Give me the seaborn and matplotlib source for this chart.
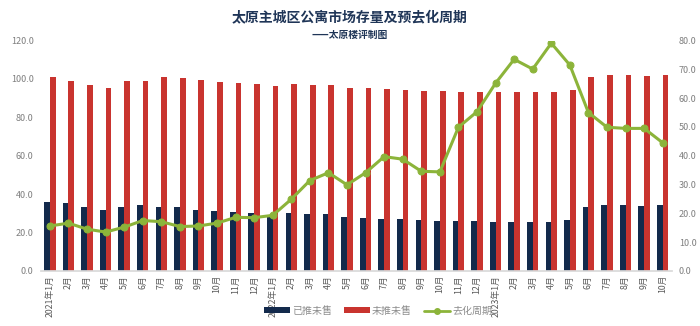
import matplotlib
matplotlib.use("Agg")
import matplotlib.pyplot as plt
import seaborn as sns
import pandas as pd
import numpy as np
from matplotlib.patches import Patch
from matplotlib.lines import Line2D
from matplotlib.ticker import FormatStrFormatter

months = ["2021年1月", "2月", "3月", "4月", "5月", "6月", "7月", "8月", "9月", "10月", "11月", "12月",
          "2022年1月", "2月", "3月", "4月", "5月", "6月", "7月", "8月", "9月", "10月", "11月", "12月",
          "2023年1月", "2月", "3月", "4月", "5月", "6月", "7月", "8月", "9月", "10月"]

pushed_unsold = [36.1, 35.2, 33.2, 31.6, 33.5, 34.2, 33.5, 33.2, 31.6, 31.1, 30.6, 30.0,
                 29.2, 30.0, 29.9, 29.9, 28.0, 27.8, 27.3, 26.9, 26.6, 26.2, 26.0, 26.0,
                 25.7, 25.3, 25.7, 25.7, 26.6, 33.5, 34.4, 34.4, 34.0, 34.4]

unpushed_unsold = [100.9, 99.1, 97.0, 95.5, 99.1, 99.1, 100.9, 100.5, 99.5, 98.4, 98.1, 97.4,
                   96.4, 97.4, 97.0, 96.9, 95.3, 95.1, 94.6, 94.4, 93.9, 93.6, 93.4, 93.2,
                   93.0, 93.0, 93.4, 93.4, 94.3, 101.2, 102.1, 102.1, 101.7, 102.1]

cycle = [15.6, 16.6, 14.5, 13.5, 15.2, 17.5, 17.1, 15.4, 15.6, 16.6, 18.6, 18.5,
         19.3, 24.9, 31.4, 34.1, 29.9, 34.1, 39.7, 38.8, 34.6, 34.4, 49.9, 55.3,
         65.2, 73.5, 70.1, 79.1, 71.5, 55.0, 49.9, 49.5, 49.5, 44.5]

series_names = ["已推未售", "未推未售", "去化周期"]

sns.set_theme(style="white")
plt.rcParams['font.family'] = ['Noto Sans CJK SC', 'DejaVu Sans']

c_dark = "#132a4c"
c_red = "#c9342f"
c_green = "#8cb43a"

idx = list(range(len(months)))
df = pd.DataFrame({
    "idx": idx * 2,
    "value": pushed_unsold + unpushed_unsold,
    "series": [series_names[0]] * len(idx) + [series_names[1]] * len(idx),
})

fig = plt.figure(figsize=(7.0, 3.26), dpi=100)
ax = fig.add_axes([0.058, 0.169, 0.902, 0.7065])

sns.barplot(data=df, x="idx", y="value", hue="series",
            palette=[c_dark, c_red], width=0.62, gap=0, linewidth=0,
            saturation=1, ax=ax, legend=False)
ax.set_xlim(-0.5, len(months) - 0.5)
ax.set_ylim(0, 120)
ax.set_yticks(np.arange(0, 121, 20))
ax.yaxis.set_major_formatter(FormatStrFormatter("%.1f"))
ax.set_xlabel("")
ax.set_ylabel("")
ax.set_xticks(idx)
ax.set_xticklabels(months, rotation=90, fontsize=6.3, color="#595959")
ax.tick_params(axis="y", labelsize=6.5, labelcolor="#7f7f7f", length=0, pad=5)
ax.tick_params(axis="x", length=0, pad=3)
for s in ["left", "right", "top"]:
    ax.spines[s].set_visible(False)
ax.spines["bottom"].set_color("#d9d9d9")

ax2 = ax.twinx()
line_df = pd.DataFrame({"idx": idx, "value": cycle})
sns.lineplot(data=line_df, x="idx", y="value", color=c_green, linewidth=2.2,
             marker="o", markersize=5, markeredgecolor=c_green, ax=ax2)
ax2.set_ylim(0, 80)
ax2.set_yticks(np.arange(0, 81, 10))
ax2.yaxis.set_major_formatter(FormatStrFormatter("%.1f"))
ax2.set_ylabel("")
ax2.set_xlabel("")
ax2.tick_params(axis="y", labelsize=6.5, labelcolor="#7f7f7f", length=0, pad=5)
for s in ["left", "right", "top", "bottom"]:
    ax2.spines[s].set_visible(False)
ax2.set_xlim(-0.5, len(months) - 0.5)

fig.text(0.5, 0.948, "太原主城区公寓市场存量及预去化周期", ha="center", va="center",
         fontsize=10, fontweight="bold", color="#1f3557")
fig.text(0.5, 0.893, "——太原楼评制图", ha="center", va="center",
         fontsize=7, fontweight="bold", color="#1f3557")

handles = [Patch(facecolor=c_dark, edgecolor="none"),
           Patch(facecolor=c_red, edgecolor="none"),
           Line2D([0], [0], color=c_green, linewidth=2, marker="o", markersize=4)]
fig.legend(handles, series_names, loc="center", bbox_to_anchor=(0.54, 0.046),
           ncol=3, frameon=False, fontsize=7.2, labelcolor="#8c8c8c",
           handlelength=2.6, handleheight=0.55, handletextpad=0.2, columnspacing=1.2)

fig.savefig("out.png", dpi=100)
